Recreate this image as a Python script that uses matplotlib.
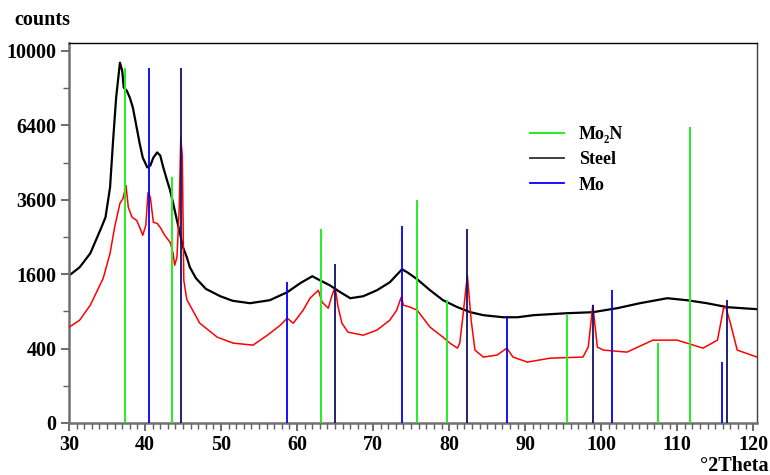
import numpy as np
import matplotlib
matplotlib.use("Agg")
import matplotlib.pyplot as plt
from matplotlib.ticker import FixedLocator, MultipleLocator
from matplotlib.lines import Line2D

# ---- data ----
steel_x = [30.0, 31.4, 32.8, 34.1, 34.8, 35.4, 35.8, 36.2, 36.7, 37.0, 37.2, 37.6, 38.0, 38.4,
           38.9, 39.3, 39.7, 40.3, 40.7, 41.1, 41.6, 42.0, 42.4, 42.9, 43.3, 43.7, 44.2, 44.6,
           45.0, 45.5, 45.9, 46.7, 48.0, 49.9, 51.5, 53.8, 56.4, 58.7, 60.4, 62.0, 63.0, 64.3,
           65.7, 67.0, 68.7, 70.5, 72.2, 73.8, 74.5, 75.8, 77.5, 79.2, 81.1, 82.8, 84.5, 87.1,
           89.0, 91.1, 95.5, 98.9, 102.1, 105.1, 108.7, 111.3, 113.9, 116.6, 120.5]
steel_y = [1570, 1752, 2080, 2682, 3055, 4010, 5765, 7650, 9380, 8970, 8130, 7980, 7650, 7190,
           6310, 5640, 5090, 4720, 4790, 5090, 5290, 5170, 4720, 4250, 3910, 3485, 2967, 2600,
           2230, 1984, 1752, 1514, 1300, 1161, 1080, 1037, 1089, 1235, 1411, 1556, 1472, 1371,
           1235, 1125, 1161, 1273, 1431, 1707, 1641, 1493, 1273, 1089, 969, 887, 840, 808,
           808, 840, 871, 887, 952, 1037, 1125, 1089, 1037, 969, 936]

sample_x = [30.0, 31.4, 32.8, 34.5, 35.4, 36.0, 36.7, 37.1, 37.5, 37.8, 38.3, 38.9, 39.3, 39.7,
            40.1, 40.4, 40.7, 41.1, 41.6, 42.0, 42.6, 43.3, 43.7, 43.9, 44.2, 44.5, 44.7, 44.9,
            45.1, 45.5, 47.2, 49.5, 51.6, 54.2, 56.1, 57.8, 58.7, 59.5, 60.8, 61.7, 62.8, 63.3,
            64.1, 64.6, 65.0, 65.4, 65.9, 66.7, 68.7, 70.5, 72.2, 73.1, 73.7, 74.0, 74.9, 75.8,
            77.5, 79.2, 80.1, 81.1, 81.4, 81.8, 82.4, 82.9, 83.4, 84.5, 86.3, 87.6, 88.4, 90.3,
            93.3, 97.6, 98.3, 98.9, 99.5, 100.3, 103.4, 106.8, 110.0, 113.4, 115.3, 116.1, 116.4,
            117.0, 117.9, 120.5]
sample_y = [663, 764, 1003, 1514, 2080, 2765, 3485, 3645, 4078, 3360, 3055, 2967, 2765, 2545,
            2822, 3842, 3678, 2909, 2880, 2765, 2545, 2358, 2080, 1797, 1984, 3360, 5890, 5170,
            1472, 1100, 720, 532, 461, 438, 557, 691, 794, 720, 919, 1125, 1273, 1054,
            952, 1180, 1332, 969, 720, 596, 557, 623, 764, 919, 1143, 1003, 969, 919,
            663, 532, 461, 405, 461, 808, 1577, 764, 384, 314, 333, 405, 314, 268,
            304, 314, 416, 1003, 416, 384, 363, 496, 496, 405, 496, 952, 969,
            720, 384, 314]

mo2n_pos = [37.4, 43.6, 63.2, 75.8, 79.7, 95.5, 107.5, 111.7]
mo2n_int = [9120, 4390, 2710, 3600, 1090, 840, 460, 6310]
steel_pos = [44.7, 65.0, 82.3, 98.9, 116.5]
steel_int = [9120, 1820, 2710, 1000, 1090]
mo_pos = [40.5, 58.7, 73.8, 87.6, 101.4, 115.9]
mo_int = [9120, 1430, 2795, 825, 1273, 268]

xticks = [30, 40, 50, 60, 70, 80, 90, 100, 110, 120]
yticks = [0, 400, 1600, 3600, 6400, 10000]
yminor = [100, 900, 2500, 4900, 8100]

# ---- figure ----
FONT = ['Liberation Serif', 'DejaVu Serif']
plt.rcParams['font.family'] = FONT
plt.rcParams['font.weight'] = 'bold'

fig = plt.figure(figsize=(7.7, 4.75), dpi=100)
ax = fig.add_axes([69 / 770, 52 / 475, (757 - 69) / 770, (423 - 42.7) / 475])

ax.set_yscale('function', functions=(lambda v: np.sqrt(np.maximum(v, 0)), lambda v: np.square(v)))
ax.set_xlim(30, 120.5)
ax.set_ylim(0, 10450)

ax.plot(steel_x, steel_y, color='black', lw=1.6, zorder=2)
ax.plot(sample_x, sample_y, color='#ff0000', lw=1.1, zorder=3)

c_mo2n = '#22ee22'
c_steel = '#10106a'
c_mo = '#0000ff'
ax.vlines(mo2n_pos, 0, mo2n_int, colors=c_mo2n, lw=1.4, zorder=4)
ax.vlines(steel_pos, 0, steel_int, colors=c_steel, lw=1.3, zorder=4)
ax.vlines(mo_pos, 0, mo_int, colors=c_mo, lw=1.3, zorder=4)

ax.yaxis.set_major_locator(FixedLocator(yticks))
ax.yaxis.set_minor_locator(FixedLocator(yminor))
ax.set_yticklabels([str(v) for v in yticks])
ax.xaxis.set_major_locator(FixedLocator(xticks))
ax.xaxis.set_minor_locator(MultipleLocator(1))
ax.set_xticklabels([str(v) for v in xticks])

ax.tick_params(axis='both', which='major', direction='out', length=6, width=1.3,
               color='#606060', labelsize=14.5, pad=3)
ax.tick_params(axis='x', which='minor', direction='out', length=4, width=1.0, color='#606060')
ax.tick_params(axis='y', which='minor', direction='out', length=4, width=1.0, color='#606060')
for lab in ax.get_xticklabels() + ax.get_yticklabels():
    lab.set_fontweight('bold')

ax.spines['left'].set_color('#707070')
ax.spines['left'].set_linewidth(1.8)
ax.spines['bottom'].set_color('#707070')
ax.spines['bottom'].set_linewidth(1.8)
ax.spines['top'].set_color('black')
ax.spines['top'].set_linewidth(1.0)
ax.spines['right'].set_color('#404040')
ax.spines['right'].set_linewidth(1.0)

handles = [Line2D([], [], color=c_mo2n, lw=1.4),
           Line2D([], [], color='#303030', lw=1.3),
           Line2D([], [], color=c_mo, lw=1.3)]
leg = ax.legend(handles, ['Mo\u2082N', 'Steel', 'Mo'], loc='upper left',
                bbox_to_anchor=((514 - 69) / 688, (423 - 110) / 380.3), frameon=False,
                handlelength=1.85, handletextpad=0.85, labelspacing=0.45,
                prop={'family': FONT, 'weight': 'bold', 'size': 13})

fig.text(14 / 770, 1 - 20 / 475, 'counts', ha='left', va='center', fontsize=14.5,
         fontweight='bold', family=FONT)
fig.text(769 / 770, 1 - 466 / 475, '\u00b02Theta', ha='right', va='center', fontsize=14.5,
         fontweight='bold', family=FONT)

fig.savefig('out.png', dpi=100)
